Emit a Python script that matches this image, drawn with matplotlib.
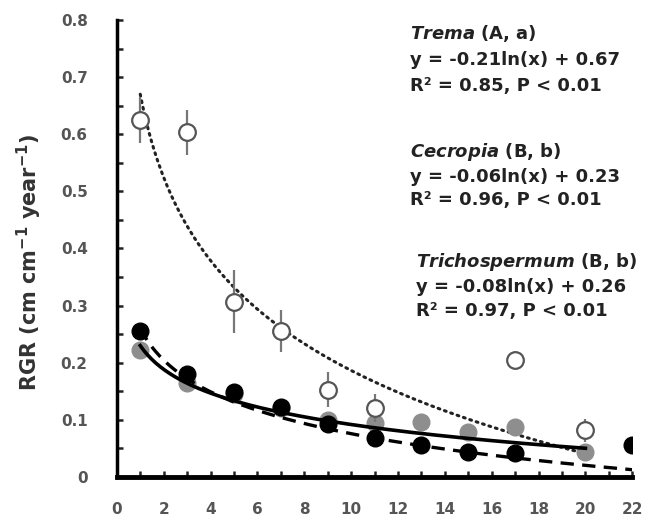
import numpy as np
import matplotlib
matplotlib.use("Agg")
import matplotlib.pyplot as plt

plt.rcParams['font.family'] = ['DejaVu Sans']
plt.rcParams['font.weight'] = 'bold'
plt.rcParams['mathtext.fontset'] = 'custom'
plt.rcParams['mathtext.rm'] = 'DejaVu Sans:bold'
plt.rcParams['mathtext.it'] = 'DejaVu Sans:italic:bold'
plt.rcParams['mathtext.bf'] = 'DejaVu Sans:bold'

# Trema (open circles, with SE bars)
trema_x = [1, 3, 5, 7, 9, 11, 17, 20]
trema_y = [0.625, 0.603, 0.307, 0.256, 0.153, 0.121, 0.205, 0.082]
trema_err = [0.04, 0.04, 0.055, 0.037, 0.03, 0.025, 0.0, 0.02]

# Cecropia (grey circles)
cecropia_x = [1, 3, 5, 7, 9, 11, 13, 15, 17, 20]
cecropia_y = [0.222, 0.165, 0.145, 0.12, 0.10, 0.095, 0.097, 0.079, 0.088, 0.044]

# Trichospermum (black circles)
tricho_x = [1, 3, 5, 7, 9, 11, 13, 15, 17, 22]
tricho_y = [0.255, 0.18, 0.149, 0.123, 0.092, 0.068, 0.056, 0.044, 0.042, 0.056]

# fitted log curves: y = a*ln(x) + b
trema_fit = (-0.21, 0.67)
cecropia_fit = (-0.06, 0.23)
tricho_fit = (-0.08, 0.26)

xticks = [0, 2, 4, 6, 8, 10, 12, 14, 16, 18, 20, 22]
yticks = [0, 0.1, 0.2, 0.3, 0.4, 0.5, 0.6, 0.7, 0.8]
ylabels = ['0', '0.1', '0.2', '0.3', '0.4', '0.5', '0.6', '0.7', '0.8']

fig = plt.figure(figsize=(6.6, 5.17), dpi=100)
ax = fig.add_axes([0.177, 0.0774, 0.781, 0.884])

# fitted curves
xs = np.linspace(1, 20, 200)
ax.plot(xs, trema_fit[0] * np.log(xs) + trema_fit[1], color='#222222', lw=2.2,
        linestyle=(0, (0.6, 1.6)), dash_capstyle='round', zorder=2)
ax.plot(xs, cecropia_fit[0] * np.log(xs) + cecropia_fit[1], color='black', lw=2.6, zorder=4)
xs = np.linspace(1, 22, 200)
ax.plot(xs, tricho_fit[0] * np.log(xs) + tricho_fit[1], color='black', lw=2.4,
        linestyle=(0, (4, 2.5)), zorder=4)

# points
ax.errorbar(trema_x, trema_y, yerr=trema_err, fmt='o', ms=12, mfc='white', mec='#555555',
            mew=1.6, ecolor='#777777', elinewidth=1.6, capsize=0, zorder=5)
ax.plot(cecropia_x, cecropia_y, 'o', ms=12, color='#8e8e8e', zorder=3)
ax.plot(tricho_x, tricho_y, 'o', ms=12, color='black', zorder=3)

ax.set_xlim(0, 22)
ax.set_ylim(0, 0.8)
ax.set_xticks(xticks)
ax.set_xticks(range(0, 23), minor=True)
ax.set_yticks(yticks)
ax.set_yticks(np.arange(0, 0.81, 0.05), minor=True)
ax.set_yticklabels(ylabels)
ax.tick_params(which='both', direction='in', length=4, width=1.8, colors='#222222',
               labelsize=11, labelcolor='#555555')
ax.tick_params(axis='x', which='major', pad=18)
ax.tick_params(axis='y', which='major', pad=21)
for lab in ax.get_xticklabels() + ax.get_yticklabels():
    lab.set_fontweight('bold')
ax.spines['top'].set_visible(False)
ax.spines['right'].set_visible(False)
ax.spines['left'].set_linewidth(2.5)
ax.spines['bottom'].set_linewidth(3.5)

ax.set_ylabel(r'RGR (cm cm$^{-1}$ year$^{-1}$)', fontsize=15, fontweight='bold',
              color='#333333')
ax.yaxis.set_label_coords(-0.142, 0.47)

kw = dict(fontsize=13, fontweight='bold', color='#222222', transform=fig.transFigure,
          va='center', ha='left')
fig.text(410 / 660, 1 - 33 / 517, r'$\mathit{Trema}$ (A, a)', **kw)
fig.text(410 / 660, 1 - 60 / 517, 'y = -0.21ln(x) + 0.67', **kw)
fig.text(410 / 660, 1 - 86 / 517, 'R² = 0.85, P < 0.01', **kw)
fig.text(410 / 660, 1 - 152 / 517, r'$\mathit{Cecropia}$ (B, b)', **kw)
fig.text(410 / 660, 1 - 177 / 517, 'y = -0.06ln(x) + 0.23', **kw)
fig.text(410 / 660, 1 - 200 / 517, 'R² = 0.96, P < 0.01', **kw)
fig.text(416 / 660, 1 - 262 / 517, r'$\mathit{Trichospermum}$ (B, b)', **kw)
fig.text(416 / 660, 1 - 287 / 517, 'y = -0.08ln(x) + 0.26', **kw)
fig.text(416 / 660, 1 - 311 / 517, 'R² = 0.97, P < 0.01', **kw)

fig.savefig('out.png', dpi=100)
